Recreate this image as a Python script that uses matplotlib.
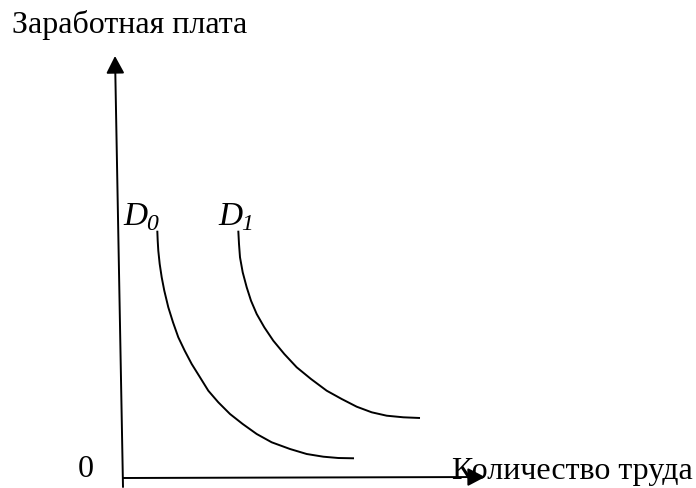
import matplotlib
matplotlib.use("Agg")
import matplotlib.pyplot as plt

# curves (labour quantity, wage), arbitrary units
d0_x = [3.43, 3.47, 3.53, 3.67, 3.87, 4.13, 4.53, 5.0, 5.53, 6.17, 6.87, 7.7,
        8.53, 9.53, 10.7, 11.97, 13.37, 14.87, 16.7, 18.37, 20.03, 21.53, 23.1]
d0_y = [24.73, 23.73, 22.73, 21.4, 20.07, 18.73, 17.07, 15.57, 14.07, 12.73,
        11.4, 10.07, 8.73, 7.57, 6.4, 5.4, 4.4, 3.57, 2.9, 2.4, 2.13, 2.0, 1.97]
d1_x = [11.53, 11.6, 11.7, 11.97, 12.37, 12.8, 13.37, 14.13, 15.03, 16.13,
        17.37, 18.8, 20.37, 21.87, 23.37, 24.87, 26.37, 28.03, 29.7]
d1_y = [24.73, 23.4, 22.07, 20.57, 19.07, 17.73, 16.4, 15.07, 13.73, 12.4,
        11.07, 9.9, 8.73, 7.9, 7.13, 6.57, 6.23, 6.07, 6.0]

y_label = "Заработная плата"
x_label = "Количество труда"
origin_label = "0"
curve_names = ["D", "D"]
curve_subs = ["0", "1"]

plt.rcParams['font.family'] = ['Liberation Serif', 'DejaVu Serif']

fig = plt.figure(figsize=(6.96, 4.89), dpi=100)
ax = fig.add_axes([0, 0, 1, 1])
ax.set_xlim(-12.3, 57.3)
ax.set_ylim(-1.0, 47.9)
ax.axis('off')

arrow = dict(arrowstyle='-|>,head_length=1.05,head_width=0.55',
             mutation_scale=10, lw=1.4, color='black', shrinkA=0, shrinkB=0)
# y axis (slightly tilted as in the source)
ax.annotate('', xy=(-0.8, 42.2), xytext=(0.0, -0.9), arrowprops=arrow, zorder=5)
# x axis
ax.annotate('', xy=(36.2, 0.1), xytext=(0.0, 0.0), arrowprops=arrow, zorder=5)

ax.plot(d0_x, d0_y, color='black', lw=1.4, solid_capstyle='butt',
        solid_joinstyle='round')
ax.plot(d1_x, d1_y, color='black', lw=1.4, solid_capstyle='butt',
        solid_joinstyle='round')

ax.text(-11.1, 45.4, y_label, fontsize=23, va='center', ha='left')
ax.text(32.9, 0.7, x_label, fontsize=23, va='center', ha='left', zorder=2)
ax.text(-3.75, 0.9, origin_label, fontsize=23, va='center', ha='center')

label_pos = [(0.0, 25.4), (9.5, 25.4)]
for (lx, ly), nm, sb in zip(label_pos, curve_names, curve_subs):
    ax.text(lx, ly, nm, fontsize=24, style='italic', va='baseline', ha='left')
    ax.text(lx + 2.3, ly - 0.5, sb, fontsize=17, style='italic',
            va='baseline', ha='left')

fig.savefig("out.png", dpi=100)
